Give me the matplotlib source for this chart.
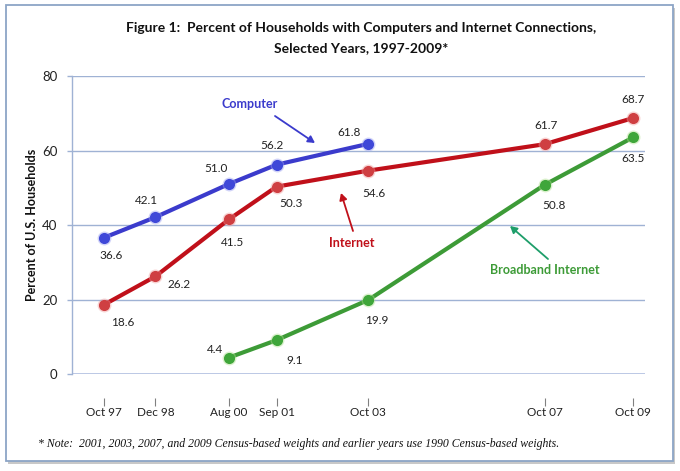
import matplotlib
matplotlib.use("Agg")
import matplotlib.pyplot as plt
from matplotlib.patches import Rectangle, FancyArrowPatch

# ---- data ----
tick_labels = ["Oct 97", "Dec 98", "Aug 00", "Sep 01", "Oct 03", "Oct 07", "Oct 09"]
months = [0, 14, 34, 47, 72, 120, 144]  # months since Oct 1997

computer_x = [0, 14, 34, 47, 72]
computer = [36.6, 42.1, 51.0, 56.2, 61.8]

internet_x = [0, 14, 34, 47, 72, 120, 144]
internet = [18.6, 26.2, 41.5, 50.3, 54.6, 61.7, 68.7]

broadband_x = [34, 47, 72, 120, 144]
broadband = [4.4, 9.1, 19.9, 50.8, 63.5]

# label offsets (pixels) - layout only
px = 0.72
comp_off = [(7, -18), (-9, 17), (-13, 16), (-5, 19), (-19, 11)]
int_off = [(19, -18), (24, -8), (4, -23), (14, -17), (6, -23), (1, 19), (0, 19)]
bb_off = [(-14, 8), (18, -20), (8, -21), (9, -21), (0, -21)]

FONT = "Lato"
plt.rcParams["font.family"] = [FONT, "DejaVu Sans"]

fig = plt.figure(figsize=(6.8, 4.71), dpi=100)
fig.patch.set_facecolor("white")

# frame with shadow
shadow = Rectangle((0.0118, 0.0140), 0.9809, 0.970, transform=fig.transFigure,
                   facecolor="#c8c8c8", edgecolor="none", zorder=-3)
frame = Rectangle((0.0088, 0.0212), 0.9809, 0.968, transform=fig.transFigure,
                  facecolor="white", edgecolor="#8ca5c6", lw=1.3, zorder=-2)
fig.patches.extend([shadow, frame])

GRID = "#9fb2d4"
ax = fig.add_axes([0.1059, 0.2059, 0.8426, 0.6327])
ax.set_facecolor("none")
ax.set_xlim(-8.7, 147.3)
ax.set_ylim(0, 80)
ax.set_yticks([0, 20, 40, 60, 80])
for y in [20, 40, 60, 80]:
    ax.axhline(y, color=GRID, lw=1.0, zorder=0)
ax.axhline(0, color="#b6c3e2", lw=2.0, zorder=0)

for s in ["top", "right"]:
    ax.spines[s].set_visible(False)
ax.spines["left"].set_color(GRID)
ax.spines["left"].set_linewidth(1.0)
ax.spines["bottom"].set_position(("outward", 17))
ax.spines["bottom"].set_visible(False)
ax.set_xticks(months)
ax.set_xticklabels(tick_labels)
ax.tick_params(axis="x", direction="out", length=6, width=0.8, color="#808080",
               pad=1, labelsize=8.5, labelcolor="#222222")
ax.tick_params(axis="y", direction="out", length=3.5, width=1.0, color=GRID,
               pad=7, labelsize=9.5, labelcolor="#222222")
ax.set_ylabel("Percent of U.S. Households", fontsize=9, fontweight="bold",
              color="#111111", labelpad=3)

def series(x, y, lc, mc, ec):
    ax.plot(x, y, color=lc, lw=3, zorder=3, solid_capstyle="round")
    ax.plot(x, y, ls="none", marker="o", ms=10, mfc=ec, mec="none", alpha=0.45, zorder=4)
    ax.plot(x, y, ls="none", marker="o", ms=8, mfc=mc, mec="none", zorder=5)

series(computer_x, computer, "#3b3bcc", "#3f48d8", "#9aa0f0")
series(internet_x, internet, "#c0101a", "#cf3f42", "#f0a0a0")
series(broadband_x, broadband, "#3d9b37", "#3fa63a", "#b0e090")

def labels(x, y, offs):
    for xi, yi, (dx, dy) in zip(x, y, offs):
        ax.annotate(f"{yi:.1f}", (xi, yi), xytext=(dx * px, dy * px),
                    textcoords="offset points", ha="center", va="center",
                    fontsize=8.5, color="#222222", zorder=6)

labels(computer_x, computer, comp_off)
labels(internet_x, internet, int_off)
labels(broadband_x, broadband, bb_off)

# annotations with arrows (in pixel coords -> figure coords)
def fpt(xp, yp):
    return (xp / 680, 1 - yp / 471)

fig.text(*fpt(250, 104), "Computer", ha="center", va="center", fontsize=9,
         fontweight="bold", color="#3b3bcc")
fig.text(*fpt(352, 243), "Internet", ha="center", va="center", fontsize=9,
         fontweight="bold", color="#c0101a")
fig.text(*fpt(545, 270), "Broadband Internet", ha="center", va="center", fontsize=9,
         fontweight="bold", color="#3d9b37")

for (a, b, c) in [((275, 116), (315, 143), "#3b3bcc"),
                  ((353, 231), (341, 193), "#c0101a"),
                  ((548, 259), (510, 226), "#1e9e6a")]:
    arr = FancyArrowPatch(fpt(*a), fpt(*b), transform=fig.transFigure,
                          arrowstyle="-|>,head_length=4,head_width=2.2",
                          color=c, lw=1.3, shrinkA=0, shrinkB=0)
    fig.patches.append(arr)

fig.text(0.531, 1 - 28 / 471, "Figure 1:  Percent of Households with Computers and Internet Connections,",
         ha="center", va="center", fontsize=10, fontweight="bold", color="#111111")
fig.text(0.531, 1 - 48 / 471, "Selected Years, 1997-2009*",
         ha="center", va="center", fontsize=10, fontweight="bold", color="#111111")

fig.text(38 / 680, 1 - 444 / 471,
         "* Note:  2001, 2003, 2007, and 2009 Census-based weights and earlier years use 1990 Census-based weights.",
         ha="left", va="center", fontsize=8.5, style="italic",
         family=["Liberation Serif", "DejaVu Serif"], color="#111111")

fig.savefig("out.png", dpi=100)
